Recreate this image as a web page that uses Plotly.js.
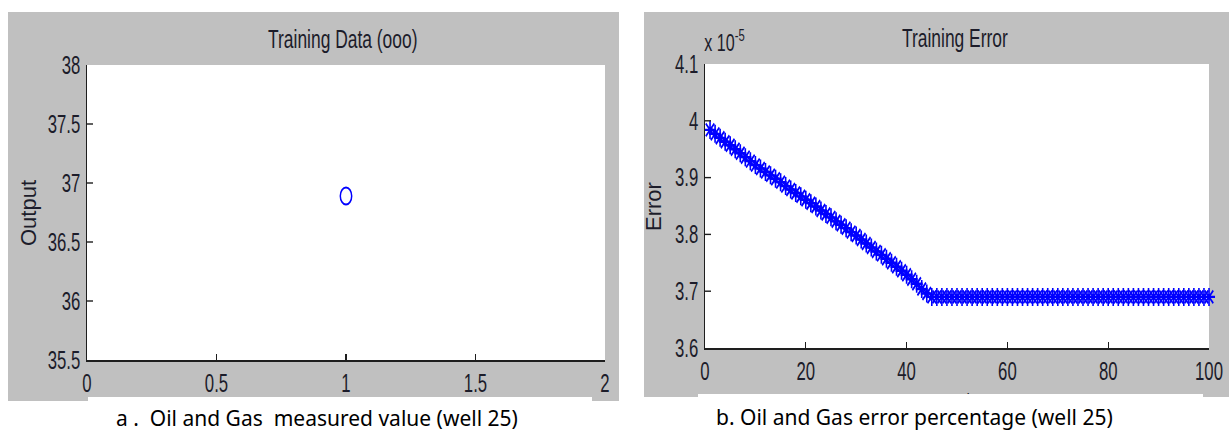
<!DOCTYPE html>
<html>
<head>
<meta charset="utf-8">
<script src="https://cdn.plot.ly/plotly-3.0.1.min.js"></script>
<style>
html,body{margin:0;padding:0;background:#fff;}
#wrap{position:relative;width:1229px;height:432px;overflow:hidden;}
#chart{position:absolute;left:0;top:0;width:1834px;height:432px;transform:scaleX(0.670120);transform-origin:0 0;}
#captions{position:absolute;left:0;top:0;width:1229px;height:432px;pointer-events:none;}
</style>
</head>
<body>
<div id="wrap"><div id="chart"></div><div id="captions"></div></div>
<script>
// ---- Data ----
// Panel a: training data (single measured output)
const trainX = [1];
const trainY = [36.89];

// Panel b: training error per epoch (values in units of 1e-5)
const epochs = [];
for (let e = 1; e <= 100; e++) epochs.push(e);
const errorE5 = [
  3.984, 3.977, 3.970, 3.963, 3.957, 3.950, 3.943, 3.936, 3.929, 3.922,
  3.916, 3.910, 3.904, 3.898, 3.892, 3.885, 3.879, 3.873, 3.867, 3.861,
  3.855, 3.849, 3.842, 3.836, 3.830, 3.823, 3.817, 3.811, 3.804, 3.798,
  3.791, 3.784, 3.777, 3.770, 3.764, 3.757, 3.750, 3.743, 3.736, 3.729,
  3.721, 3.713, 3.704, 3.696, 3.690, 3.690, 3.690, 3.690, 3.690, 3.690,
  3.690, 3.690, 3.690, 3.690, 3.690, 3.690, 3.690, 3.690, 3.690, 3.690,
  3.690, 3.690, 3.690, 3.690, 3.690, 3.690, 3.690, 3.690, 3.690, 3.690,
  3.690, 3.690, 3.690, 3.690, 3.690, 3.690, 3.690, 3.690, 3.690, 3.690,
  3.690, 3.690, 3.690, 3.690, 3.690, 3.690, 3.690, 3.690, 3.690, 3.690,
  3.690, 3.690, 3.690, 3.690, 3.690, 3.690, 3.690, 3.690, 3.690, 3.690
];

// Tick labels
const xTicksA = [0, 0.5, 1, 1.5, 2];
const yTicksA = [35.5, 36, 36.5, 37, 37.5, 38];
const xTicksB = [0, 20, 40, 60, 80, 100];
const yTicksB = [3.6, 3.7, 3.8, 3.9, 4, 4.1];

// Texts
const titleA = 'Training Data (ooo)';
const titleB = 'Training Error';
const yTitleA = 'Output';
const yTitleB = 'Error';
const xTitleB = 'Epochs';
const captionA = 'a .\u00a0 Oil and Gas\u00a0 measured value (well 25)';
const captionB = 'b. Oil and Gas error percentage (well 25)';

// ---- Layout helpers (final-picture pixel -> paper fraction) ----
const W = 1229, H = 432;
const px = v => v / W;
const py = v => 1 - v / H;

const helv = 'Liberation Sans, Arial, Helvetica, sans-serif';
const ink = '#1c1c2a';
const axisColor = '#1e1e1e';
const tickFont = {family: helv, size: 25, color: ink};

const traces = [
  {x: trainX, y: trainY, xaxis: 'x', yaxis: 'y', type: 'scatter', mode: 'markers',
   marker: {symbol: 'circle-open', size: 17, color: '#0000ff', line: {width: 2.2, color: '#0000ff'}},
   hoverinfo: 'skip'},
  {x: epochs, y: errorE5, xaxis: 'x2', yaxis: 'y2', type: 'scatter', mode: 'markers',
   cliponaxis: false,
   marker: {symbol: 'asterisk-open', size: 15, color: '#0000ff', line: {width: 2.4, color: '#0000ff'}},
   hoverinfo: 'skip'}
];

function axis(domain, range, ticks, anchor, isX) {
  return {
    domain: domain, range: range, anchor: anchor,
    tickmode: 'array', tickvals: ticks, ticktext: ticks.map(String),
    showgrid: false, zeroline: false,
    showline: true, linecolor: axisColor, linewidth: 2, mirror: false,
    ticks: 'inside', ticklen: isX ? 6 : 9, tickwidth: isX ? 1.5 : 1.4, tickcolor: axisColor,
    tickfont: tickFont, ticklabelstandoff: isX ? 0 : 3,
    fixedrange: true
  };
}

const shapes = [
  // gray figure panels
  {type: 'rect', xref: 'paper', yref: 'paper', layer: 'below', x0: px(8), x1: px(619), y0: py(401), y1: py(12),
   fillcolor: '#c0c0c0', line: {width: 0}},
  {type: 'rect', xref: 'paper', yref: 'paper', layer: 'below', x0: px(644), x1: px(1229), y0: py(397), y1: py(12),
   fillcolor: '#c0c0c0', line: {width: 0}},
  // white axes areas
  {type: 'rect', xref: 'paper', yref: 'paper', layer: 'below', x0: px(87), x1: px(605), y0: py(360), y1: py(65),
   fillcolor: '#ffffff', line: {width: 0}},
  {type: 'rect', xref: 'paper', yref: 'paper', layer: 'below', x0: px(705), x1: px(1209), y0: py(348), y1: py(64),
   fillcolor: '#ffffff', line: {width: 0}}
];

const ann = (text, x, y, opts) => Object.assign({text: text, x: x, y: y, xref: 'paper', yref: 'paper',
  showarrow: false, xanchor: 'center', yanchor: 'middle'}, opts || {});

const annotations = [
  ann(titleA, px(343), py(39), {font: {family: helv, size: 26, color: ink}}),
  ann(titleB, px(955), py(38), {font: {family: helv, size: 26, color: ink}}),
  ann('x 10<sup>-5</sup>', px(703), py(41), {xanchor: 'left', font: {family: helv, size: 24, color: ink}}),
  ann(xTitleB, px(957), py(387), {yanchor: 'top', font: {family: helv, size: 22, color: ink}})
];

const layout = {
  width: 1834, height: H,
  margin: {l: 0, r: 0, t: 0, b: 0},
  paper_bgcolor: '#ffffff', plot_bgcolor: '#ffffff',
  showlegend: false,
  xaxis: axis([px(87), px(605)], [0, 2], xTicksA, 'y', true),
  yaxis: axis([1 - 360 / H, 1 - 65 / H], [35.5, 38], yTicksA, 'x', false),
  xaxis2: axis([px(705), px(1209)], [0, 100], xTicksB, 'y2', true),
  yaxis2: axis([1 - 348 / H, 1 - 64 / H], [3.6, 4.1], yTicksB, 'x2', false),
  shapes: shapes,
  annotations: annotations
};

Plotly.newPlot('chart', traces, layout, {displayModeBar: false, staticPlot: true});

// ---- Unsqueezed layer: axis titles and document captions ----
const capFont = {family: 'Noto Sans, Open Sans, sans-serif', size: 21, color: '#000'};
const yTitleFont = {family: helv, size: 22, color: ink};
const capLayout = {
  width: W, height: H,
  margin: {l: 0, r: 0, t: 0, b: 0},
  paper_bgcolor: 'rgba(0,0,0,0)', plot_bgcolor: 'rgba(0,0,0,0)',
  showlegend: false,
  xaxis: {visible: false, range: [0, 1], fixedrange: true},
  yaxis: {visible: false, range: [0, 1], fixedrange: true},
  shapes: [
    {type: 'rect', xref: 'paper', yref: 'paper', x0: px(88), x1: px(592), y0: 0, y1: py(397),
     fillcolor: '#ffffff', line: {width: 0}},
    {type: 'rect', xref: 'paper', yref: 'paper', x0: px(698), x1: px(1203), y0: 0, y1: py(394),
     fillcolor: '#ffffff', line: {width: 0}}
  ],
  annotations: [
    ann(yTitleA, px(28), py(213), {textangle: -90, font: yTitleFont}),
    ann(yTitleB, px(653), py(207), {textangle: -90, font: yTitleFont}),
    ann(captionA, px(317), py(418), {font: capFont}),
    ann(captionB, px(914), py(417), {font: capFont})
  ]
};
Plotly.newPlot('captions', [], capLayout, {displayModeBar: false, staticPlot: true});
</script>
</body>
</html>
